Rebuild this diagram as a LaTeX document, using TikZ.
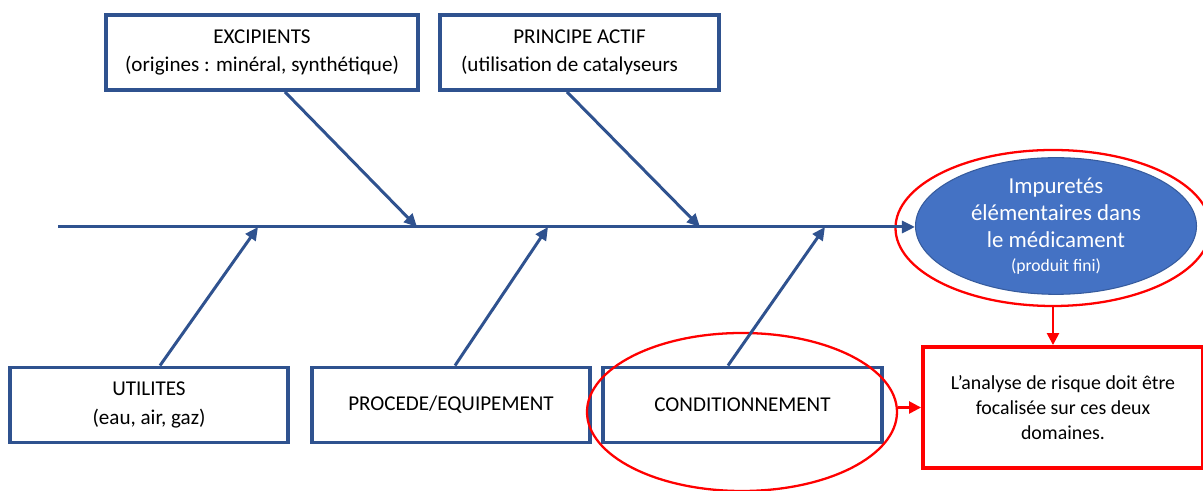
\documentclass[tikz,border=0pt]{standalone}
\usepackage{fontspec}
\setmainfont{Carlito}
\usetikzlibrary{arrows.meta,shapes.geometric,positioning,calc}
\definecolor{bord}{HTML}{2F528F}
\definecolor{fillb}{HTML}{4472C4}

\begin{document}
\begin{tikzpicture}[
  every node/.style={align=center,font=\fontsize{12}{16}\selectfont},%
  bx/.style={draw=bord,line width=2.2pt,minimum height=1.5cm,minimum width=5.56cm,inner sep=0pt},%
  e/.style={-{Triangle[length=2.6mm,width=2.4mm]},line width=1.7pt,draw=bord},%
  re/.style={-{Triangle[length=2.4mm,width=2.4mm]},line width=1.4pt,draw=red,fill=red},%
  ci/.style={ellipse,draw=red,line width=1.3pt,inner sep=0pt},%
  ]
  \useasboundingbox (0,0) rectangle (24.06,9.82);
  % causes
  \node (exc) [bx,minimum width=6.24cm] at (5.24,8.77) {EXCIPIENTS\\(origines : minéral, synthétique)};
  \node (pa)  [bx,minimum width=5.58cm] at (11.59,8.77) {PRINCIPE ACTIF\\\hspace*{-4mm}(utilisation de catalyseurs};
  \node (util) [bx] at (2.98,1.72) {UTILITES\\(eau, air, gaz)};
  \node (proc) [bx] at (9.02,1.72) {PROCEDE/EQUIPEMENT};
  \node (cond) [bx,minimum width=5.58cm] at (14.85,1.72) {CONDITIONNEMENT};

  % effect
  \node (imp) [ellipse,fill=fillb,draw=fillb!80!black,line width=0.6pt,minimum width=5.62cm,minimum height=2.54cm,
    text=white,inner sep=0pt,font=\fontsize{13}{15.5}\selectfont] at (21.12,5.30)
  {Impuretés\\élémentaires dans\\le médicament\\[-2pt]{\fontsize{10}{12}\selectfont (produit fini)}};
  \node (rell) [ci,minimum width=6.3cm,minimum height=3.12cm] at (21.06,5.26) {};
  \node (ccirc) [ci,minimum width=6.2cm,minimum height=3.16cm] at (14.84,1.58) {};
  \node (concl) [draw=red,line width=2.2pt,minimum width=5.6cm,minimum height=2.42cm,inner sep=0pt,
    font=\fontsize{11.3}{14}\selectfont] at (21.26,1.67)
  {L’analyse de risque doit être\\focalisée sur ces deux\\domaines.};

  % spine
  \coordinate (tail) at (1.16,5.28);
  \coordinate (s1) at (8.34,5.28);
  \coordinate (s2) at (14.0,5.28);
  \coordinate (s3) at (5.16,5.28);
  \coordinate (s4) at (10.96,5.28);
  \coordinate (s5) at (16.5,5.28);
  \draw [e] (tail) -- (tail -| imp.west);
  \draw [e] ($(exc.south)+(0.46,0)$) -- (s1);
  \draw [e] ($(pa.south)+(-0.25,0)$) -- (s2);
  \draw [e] ($(util.north)+(0.22,0)$) -- (s3);
  \draw [e] ($(proc.north)+(0.08,0)$) -- (s4);
  \draw [e] ($(cond.north)+(-0.29,0)$) -- (s5);

  \draw [re] (rell.south) -- (rell.south |- concl.north);
  \draw [re] (concl.west -| ccirc.east) -- (concl.west);
\end{tikzpicture}
\end{document}
